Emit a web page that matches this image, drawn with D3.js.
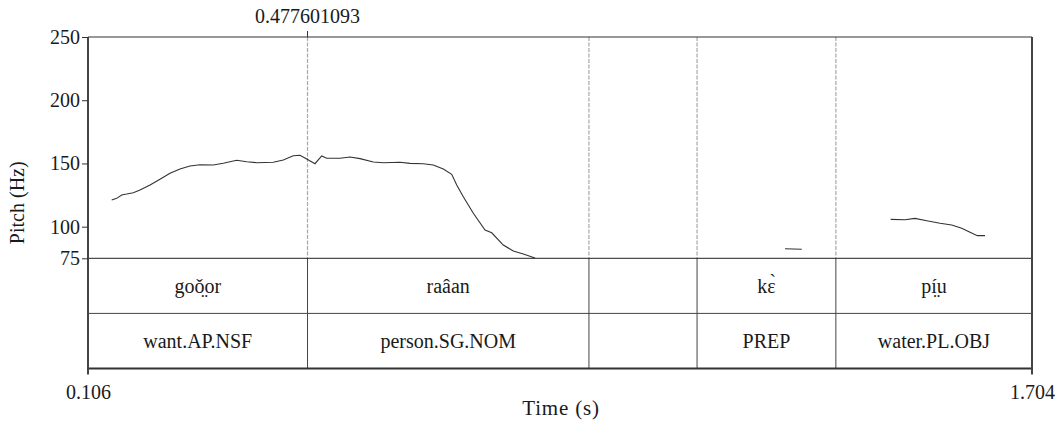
<!DOCTYPE html>
<html>
<head>
<meta charset="utf-8">
<script src="https://cdn.jsdelivr.net/npm/d3@7"></script>
<style>
  body { margin: 0; background: #fff; }
  svg text { font-family: "Liberation Serif", "Times New Roman", "DejaVu Serif", serif !important; fill: #1a1a1a; }
</style>
</head>
<body>
<div id="chart"></div>
<script>
// time axis and pitch range
const timeStart = 0.106;
const timeEnd = 1.704;
const pitchMin = 75;
const pitchMax = 250;
const pitchTicks = [75, 100, 150, 200, 250];
const cursorTime = 0.477601093;

// interval boundaries shared by both tiers
const boundaries = [0.477601093, 0.954, 1.137, 1.372];
const wordLabels = ["goǒ̤or", "raâan", "", "kɛ̀", "pí̤u"];
const glossLabels = ["want.AP.NSF", "person.SG.NOM", "", "PREP", "water.PL.OBJ"];

// pitch track [time (s), Hz], one array per voiced stretch
const pitchSeg1 = [
  [0.1461, 121.1], [0.1546, 122.4], [0.1630, 125.1], [0.1715, 125.8], [0.1827, 126.9],
  [0.1940, 129.0], [0.2110, 133.0], [0.2279, 137.5], [0.2448, 142.2], [0.2617, 145.6],
  [0.2787, 148.0], [0.2956, 149.0], [0.3181, 148.8], [0.3350, 150.1], [0.3577, 152.5],
  [0.3747, 151.4], [0.3916, 150.6], [0.4197, 150.9], [0.4366, 152.7], [0.4535, 156.1],
  [0.4649, 156.5], [0.4762, 153.5], [0.4903, 149.8], [0.5016, 155.9], [0.5101, 154.1],
  [0.5326, 154.1], [0.5495, 155.1], [0.5665, 153.8], [0.5890, 151.2], [0.6059, 150.6],
  [0.6342, 150.9], [0.6511, 150.1], [0.6736, 149.8], [0.6905, 148.8], [0.7075, 145.6],
  [0.7217, 141.4], [0.7302, 133.0], [0.7413, 123.7], [0.7583, 110.6], [0.7781, 97.4],
  [0.7894, 95.2], [0.8090, 85.5], [0.8260, 80.8], [0.8429, 78.4], [0.8627, 75.2]
];
const pitchSeg2 = [[1.2859, 82.6], [1.3142, 82.1]];
const pitchSeg3 = [
  [1.4648, 105.8], [1.4890, 105.5], [1.5059, 106.6], [1.5258, 104.7], [1.5483, 102.7],
  [1.5681, 101.4], [1.5850, 98.7], [1.5991, 95.6], [1.6114, 92.9], [1.6245, 92.9]
];

const W = 1063, H = 423;
const frameLeft = 88, frameRight = 1032, frameTop = 37;
const pitchBottom = 258.3;
const rowH = 55.1;
const serif = "'Liberation Serif', 'Times New Roman', 'DejaVu Serif', serif";

const svg = d3.select("#chart").append("svg")
  .attr("width", W)
  .attr("height", H)
  .attr("font-family", serif);

let x = d3.scaleLinear().domain([timeStart, timeEnd]).range([frameLeft, frameRight]);
let y = d3.scaleLinear().domain([pitchMin, pitchMax]).range([pitchBottom, frameTop]);

// interval edges, start/end added
let edges = [timeStart].concat(boundaries, [timeEnd]);

// dashed boundary lines in the pitch area
svg.selectAll(".bnd")
  .data(boundaries)
  .enter()
  .append("line")
  .attr("x1", d => x(d)).attr("x2", d => x(d))
  .attr("y1", frameTop).attr("y2", pitchBottom)
  .attr("stroke", "#a8a8a8")
  .attr("stroke-width", 1.2)
  .attr("stroke-dasharray", "4,1.5");

// pitch contour
let line = d3.line().x(d => x(d[0])).y(d => y(d[1]));
[pitchSeg1, pitchSeg2, pitchSeg3].forEach(seg => {
  svg.append("path")
    .attr("d", line(seg))
    .attr("fill", "none")
    .attr("stroke", "#333")
    .attr("stroke-width", 1.1);
});

// tier boundaries (solid)
svg.selectAll(".tb")
  .data(boundaries)
  .enter()
  .append("line")
  .attr("x1", d => x(d)).attr("x2", d => x(d))
  .attr("y1", pitchBottom).attr("y2", pitchBottom + 2 * rowH)
  .attr("stroke", "#444")
  .attr("stroke-width", 1);

// horizontal rules
svg.append("line")
  .attr("x1", frameLeft).attr("x2", frameRight).attr("y1", frameTop).attr("y2", frameTop)
  .attr("stroke", "#333").attr("stroke-width", 1.2);
svg.append("line")
  .attr("x1", frameLeft).attr("x2", frameRight).attr("y1", pitchBottom).attr("y2", pitchBottom)
  .attr("stroke", "#222").attr("stroke-width", 1);
svg.append("line")
  .attr("x1", frameLeft).attr("x2", frameRight).attr("y1", pitchBottom + rowH).attr("y2", pitchBottom + rowH)
  .attr("stroke", "#444").attr("stroke-width", 1);
svg.append("line")
  .attr("x1", frameLeft).attr("x2", frameRight).attr("y1", pitchBottom + 2 * rowH).attr("y2", pitchBottom + 2 * rowH)
  .attr("stroke", "#333").attr("stroke-width", 2);

// side borders run a little past the bottom as end ticks
[frameLeft, frameRight].forEach(px => {
  svg.append("line")
    .attr("x1", px).attr("x2", px)
    .attr("y1", frameTop).attr("y2", pitchBottom + 2 * rowH + 6)
    .attr("stroke", "#444").attr("stroke-width", 2);
});

// y axis ticks
let yAxis = d3.axisLeft(y).tickValues(pitchTicks).tickSize(6).tickPadding(2);
let gy = svg.append("g").attr("transform", `translate(${frameLeft},0)`).call(yAxis);
gy.attr("font-family", serif);
gy.select(".domain").remove();
gy.selectAll("line").attr("stroke", "#333");
gy.selectAll("text").attr("font-size", "20px").attr("fill", "#1a1a1a");

// time axis end labels
let xAxis = d3.axisBottom(x).tickValues([timeStart, timeEnd]).tickSize(0).tickPadding(16).tickFormat(d3.format(".3f"));
let gx = svg.append("g").attr("transform", `translate(0,${pitchBottom + 2 * rowH})`).call(xAxis);
gx.attr("font-family", serif);
gx.select(".domain").remove();
gx.selectAll("text").attr("font-size", "20px").attr("fill", "#1a1a1a");

// cursor mark above the frame
svg.append("line")
  .attr("x1", x(cursorTime)).attr("x2", x(cursorTime))
  .attr("y1", frameTop - 6).attr("y2", frameTop)
  .attr("stroke", "#333").attr("stroke-width", 1);
svg.append("text")
  .attr("x", x(cursorTime))
  .attr("y", 23)
  .attr("text-anchor", "middle")
  .attr("font-size", "20px")
  .text(cursorTime);

// tier labels
function tierText(labels, row) {
  svg.selectAll(".tier" + row)
    .data(labels)
    .enter()
    .append("text")
    .attr("x", (d, i) => (x(edges[i]) + x(edges[i + 1])) / 2)
    .attr("y", pitchBottom + rowH * row + rowH / 2)
    .attr("dy", "0.35em")
    .attr("text-anchor", "middle")
    .attr("font-size", "20px")
    .text(d => d);
}
tierText(wordLabels, 0);
tierText(glossLabels, 1);

// axis titles
svg.append("text")
  .attr("x", (frameLeft + frameRight) / 2 + 1)
  .attr("y", 415)
  .attr("text-anchor", "middle")
  .attr("font-size", "21px")
  .attr("letter-spacing", "0.8px")
  .text("Time (s)");

svg.append("text")
  .attr("transform", `translate(24,${(frameTop + pitchBottom + 2 * rowH) / 2}) rotate(-90)`)
  .attr("text-anchor", "middle")
  .attr("font-size", "20px")
  .text("Pitch (Hz)");
</script>
</body>
</html>
